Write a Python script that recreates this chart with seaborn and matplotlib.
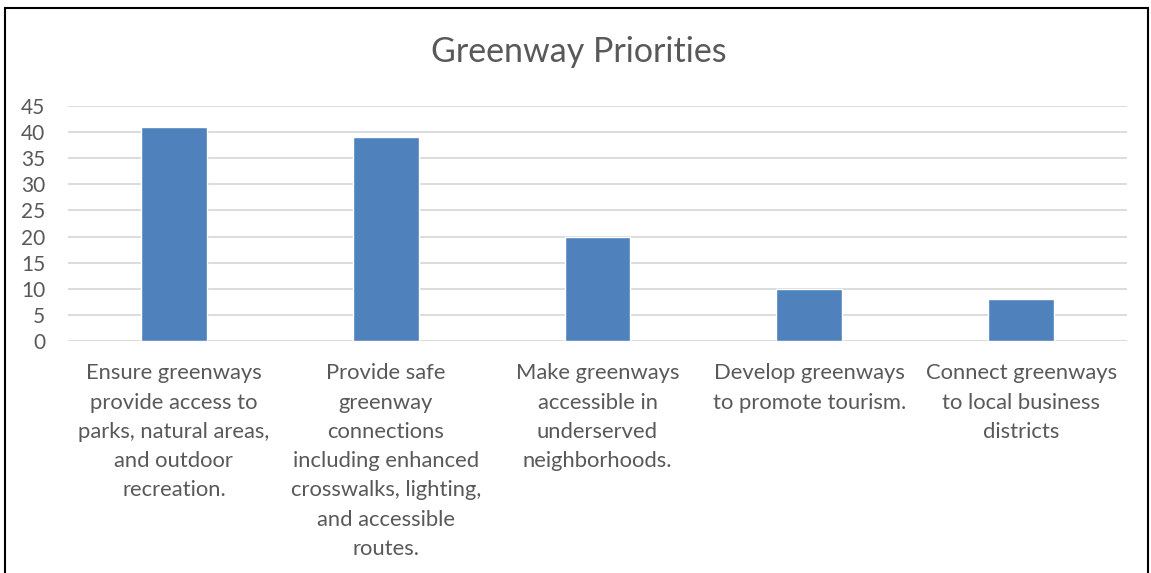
import matplotlib
matplotlib.use("Agg")
import matplotlib.pyplot as plt
import seaborn as sns
import pandas as pd
from matplotlib.patches import Rectangle

# data
categories = [
    "Ensure greenways\nprovide access to\nparks, natural areas,\nand outdoor\nrecreation.",
    "Provide safe\ngreenway\nconnections\nincluding enhanced\ncrosswalks, lighting,\nand accessible\nroutes.",
    "Make greenways\naccessible in\nunderserved\nneighborhoods.",
    "Develop greenways\nto promote tourism.",
    "Connect greenways\nto local business\ndistricts",
]
counts = [41, 39, 20, 10, 8]
y_ticks = [0, 5, 10, 15, 20, 25, 30, 35, 40, 45]

df = pd.DataFrame({"priority": categories, "count": counts})

sns.set_style("white")
plt.rcParams["font.family"] = ["Lato", "DejaVu Sans"]

text_col = "#595959"

fig = plt.figure(figsize=(11.51, 5.73), dpi=100)
ax = fig.add_axes([68 / 1151, 1 - 341 / 573, (1127 - 68) / 1151, (341 - 106) / 573])

sns.barplot(data=df, x="priority", y="count", color="#4f81bd", width=0.31,
            saturation=1, ax=ax, zorder=3)

ax.set_ylim(0, 45)
ax.set_yticks(y_ticks)
ax.set_xlim(-0.5, len(categories) - 0.5)
ax.yaxis.grid(True, color="#d9d9d9", linewidth=1.3, zorder=0)
ax.set_axisbelow(True)
for s in ax.spines.values():
    s.set_visible(False)
ax.tick_params(axis="both", length=0, colors=text_col)
ax.tick_params(axis="y", pad=16.5, labelsize=15)
ax.tick_params(axis="x", pad=16, labelsize=15.8)
for lab in ax.get_xticklabels():
    lab.set_linespacing(1.58)
ax.set_xlabel("")
ax.set_ylabel("")

fig.text(0.503, 1 - 52 / 573, "Greenway Priorities", ha="center", va="center",
         fontsize=24.5, color=text_col)

# outer chart border (bottom edge is cropped in the original)
fig.patches.append(Rectangle((4.5 / 1151, -0.05), (1148 - 4.5) / 1151, 1.05 - 7.5 / 573,
                             transform=fig.transFigure, fill=False,
                             edgecolor="black", linewidth=1.5))

fig.savefig("out.png", dpi=100)
